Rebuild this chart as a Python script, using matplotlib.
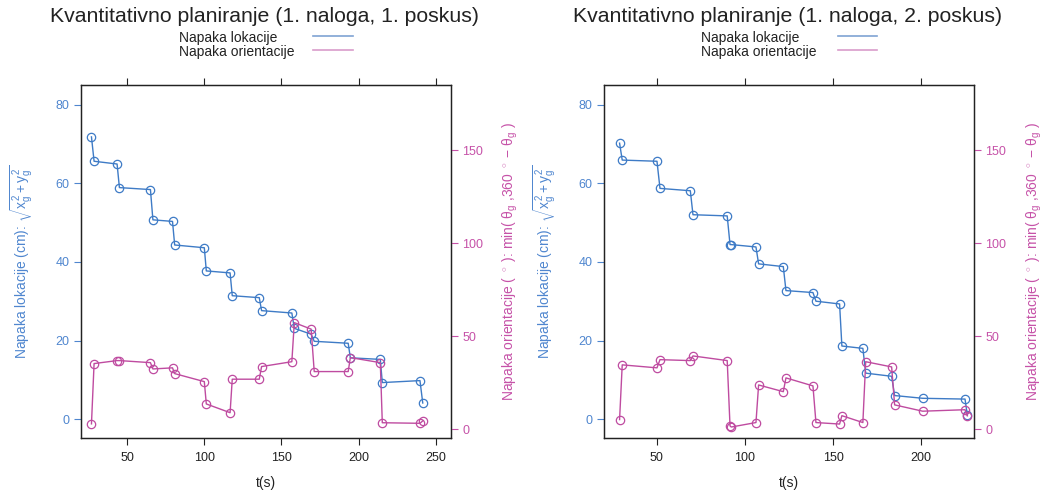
import matplotlib
matplotlib.use("Agg")
import matplotlib.pyplot as plt
from matplotlib.lines import Line2D

plt.rcParams['font.family'] = ['Liberation Sans', 'DejaVu Sans']
plt.rcParams['mathtext.fontset'] = 'custom'
plt.rcParams['mathtext.rm'] = 'Liberation Sans'
plt.rcParams['mathtext.it'] = 'Liberation Sans'
plt.rcParams['mathtext.sf'] = 'Liberation Sans'

# ---- data: run 1 ----
t1 = [26.9, 28.6, 43.5, 45.0, 65.1, 66.7, 79.4, 80.8, 100.0, 101.3, 116.7, 118.1,
      135.6, 137.1, 156.7, 158.3, 169.2, 171.2, 193.2, 194.6, 214.0, 215.3, 239.7, 241.5]
loc1 = [71.8, 65.6, 64.9, 58.9, 58.4, 50.7, 50.3, 44.3, 43.6, 37.7, 37.2, 31.4,
        30.9, 27.6, 27.0, 23.1, 21.6, 19.8, 19.3, 15.6, 15.2, 9.3, 9.8, 4.1]
ori1 = [2.9, 35.3, 36.9, 36.9, 35.8, 32.4, 33.0, 29.9, 25.6, 13.6, 8.9, 26.9,
        26.9, 33.7, 36.3, 57.3, 53.8, 31.0, 31.0, 38.5, 35.8, 3.5, 3.2, 4.5]

# ---- data: run 2 ----
t2 = [29.0, 30.5, 50.2, 51.9, 69.1, 70.6, 90.0, 91.6, 92.3, 106.3, 107.8, 121.8,
      123.3, 138.6, 140.3, 153.7, 155.0, 166.9, 168.5, 183.2, 184.9, 200.8, 224.8, 226.1]
loc2 = [70.2, 65.9, 65.6, 58.7, 58.1, 52.0, 51.7, 44.4, 44.4, 43.8, 39.5, 38.8,
        32.7, 32.2, 30.0, 29.3, 18.6, 18.0, 11.7, 10.9, 6.0, 5.3, 5.1, 1.0]
ori2 = [5.2, 34.6, 33.0, 37.4, 36.9, 39.4, 36.9, 1.8, 1.2, 3.6, 23.8, 20.2,
        27.6, 23.3, 3.6, 2.8, 7.3, 3.6, 36.3, 33.5, 13.1, 9.7, 10.5, 7.2]

titles = ["Kvantitativno planiranje (1. naloga, 1. poskus)",
          "Kvantitativno planiranje (1. naloga, 2. poskus)"]
legend_labels = ["Napaka lokacije", "Napaka orientacije"]
xticks_list = [[50, 100, 150, 200, 250], [50, 100, 150, 200]]
xlims = [(19.8, 259.8), (20.0, 230.0)]
yticks_left = [0, 20, 40, 60, 80]
yticks_right = [0, 50, 100, 150]

BLUE = '#3E7BC6'
PINK = '#BF4BA0'
BLUE_T = '#4F86CF'
PINK_T = '#C652A8'
BLUE_L = '#7FA3D3'
PINK_L = '#D99CCB'
DARK = '#222222'

W, H = 1046, 495
fig = plt.figure(figsize=(W / 100, H / 100), dpi=100)

panels = [(80.5, t1, loc1, ori1), (603.7, t2, loc2, ori2)]
for i, (x0, t, loc, ori) in enumerate(panels):
    ax = fig.add_axes([x0 / W, 1 - 438 / H, 370.5 / W, 353 / H])
    ax2 = ax.twinx()
    ax.plot(t, loc, color=BLUE, lw=1.0, marker='o', ms=6, mfc='none',
            mec=BLUE, mew=0.9, zorder=3)
    ax2.plot(t, ori, color=PINK, lw=1.0, marker='o', ms=6, mfc='none',
             mec=PINK, mew=0.9, zorder=3)
    ax.set_xlim(*xlims[i])
    ax.set_ylim(-4.8, 85.0)
    ax2.set_ylim(-4.7, 185.0)
    ax.set_xticks(xticks_list[i])
    ax.set_yticks(yticks_left)
    ax2.set_yticks(yticks_right)
    ax.tick_params(axis='x', direction='out', length=5, width=0.8, color=DARK,
                   labelsize=9, labelcolor=DARK, top=True, bottom=True, pad=5)
    ax.tick_params(axis='y', direction='out', length=5, width=0.8, color=BLUE_T,
                   labelsize=9, labelcolor=BLUE_T, pad=3)
    ax2.tick_params(axis='y', direction='out', length=5, width=0.8, color=PINK_T,
                    labelsize=9, labelcolor=PINK_T, pad=3)
    for a in (ax, ax2):
        for s in a.spines.values():
            s.set_color(DARK)
            s.set_linewidth(0.9)
    ax.set_xlabel("t(s)", fontsize=10, color=DARK, labelpad=9)
    ax.set_ylabel(r"Napaka lokacije (cm): $\sqrt{x_g^2 + y_g^2}$", fontsize=10,
                  color=BLUE_T, labelpad=15)
    ax2.set_ylabel(r"Napaka orientacije ( $^\circ$ ): min( θ$_g$ ,360 $^\circ$ − θ$_g$ )",
                   fontsize=10, color=PINK_T, rotation=90, labelpad=13)

    # title and legend above the panel
    cx = (264 if i == 0 else 787.5) / W
    fig.text(cx, 1 - 17 / H, titles[i], ha='center', va='center', fontsize=15.3,
             color=DARK)
    lx = (179 if i == 0 else 701) / W
    lx0 = (313 if i == 0 else 838) / W
    lx1 = (353 if i == 0 else 877) / W
    for j, (lab, col) in enumerate(zip(legend_labels, [BLUE_L, PINK_L])):
        yy = 1 - (38 + 14 * j) / H
        fig.text(lx, yy, lab, ha='left', va='center', fontsize=10, color=DARK)
        fig.add_artist(Line2D([lx0, lx1], [yy + 2 / H, yy + 2 / H],
                              transform=fig.transFigure, color=col, lw=1.2))

fig.savefig("out.png", dpi=100)
